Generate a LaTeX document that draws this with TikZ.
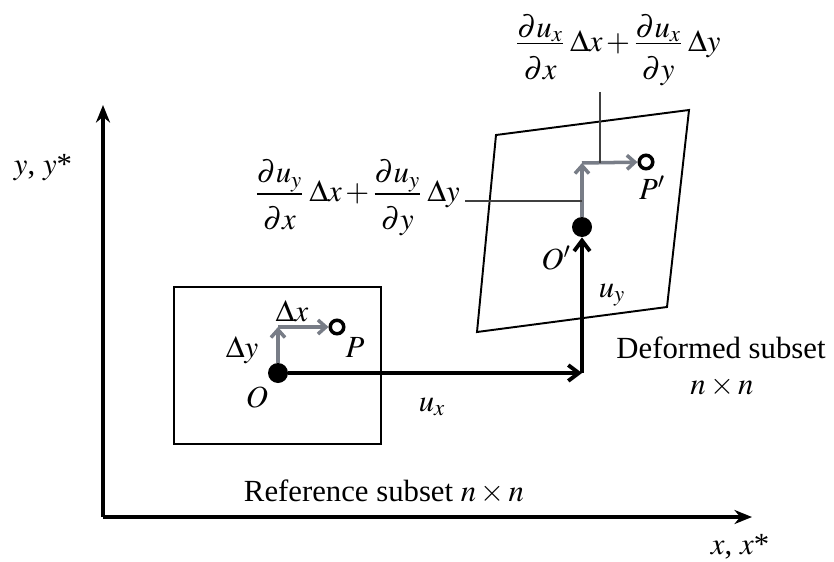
\documentclass[tikz,border=0pt]{standalone}
\usepackage{amsmath}
\usepackage{mathptmx}
\usepackage{fontspec}
\setmainfont{Liberation Serif}
\usetikzlibrary{arrows.meta,calc}

\definecolor{incrgray}{rgb}{0.47,0.49,0.53}
\definecolor{leadergray}{rgb}{0.25,0.25,0.25}
\newcommand{\tightfrac}[2]{\genfrac{}{}{}{1}{\displaystyle #1}{\displaystyle\rule{0pt}{1.1em}#2}}
\newcommand{\tplus}{\mkern2mu{+}\mkern2mu}

\begin{document}
\begin{tikzpicture}[x=0.02cm,y=-0.02cm,
  font=\fontsize{17.5}{21}\selectfont,
  axis/.style={line width=2pt,-{Stealth[length=10pt,width=8pt]}},
  disp/.style={line width=2.2pt,-{Straight Barb[length=6pt,width=9pt]}},
  incr/.style={incrgray,line width=2pt,-{Straight Barb[length=4.5pt,width=8pt]}},
  leader/.style={leadergray,line width=1pt},
  dot/.style={circle,fill,inner sep=0pt,minimum size=0.4cm},
  hole/.style={circle,draw,line width=2pt,inner sep=0pt,minimum size=0.27cm}]
\useasboundingbox (0,0) rectangle (834,561);
% axes
\coordinate (orig) at (103,517);
\coordinate (ytip) at (103,105);
\coordinate (xtip) at (752,517);
\draw[axis] (orig) -- (ytip);
\draw[axis] (orig) -- (xtip);
\node (ylab) at (43,168) {$y$, $y$*};
\node (xlab) at (740,547) {$x$, $x$*};
% reference subset
\draw[line width=0.8pt] (174,287) rectangle (381,444);
\node[dot] (O) at (278,373) {};
\node[hole] (P) at (337,327) {};
\coordinate (Oc) at (278,327);
\draw[incr] (O) -- (Oc);
\draw[incr] (Oc) -- (P);
\node (Olab) at (257,397) {$O$};
\node (Plab) at (355,348) {$P$};
\node (dxlab) at (292,311) {$\Delta x$};
\node (dylab) at (242,350) {$\Delta y$};
\node (reflab) at (384,492) {Reference subset $n\times n$};
% deformed subset
\draw[line width=1.1pt] (496,135) -- (689,110) -- (667,307) -- (477,332) -- cycle;
\node[dot] (Od) at (582,227) {};
\node[hole] (Pd) at (646,162) {};
\coordinate (Odc) at (582,163);
\draw[incr] (Od) -- (Odc);
\draw[incr] (Odc) -- (Pd);
\node (Odlab) at (556,258) {$O'$};
\node (Pdlab) at (652,188) {$P'$};
\node (deflab) at (721,348) {Deformed subset};
\node (defnn) at (722,387) {$n\times n$};
% displacement
\coordinate (corner) at (582,373);
\draw[disp] (O) -- (corner);
\draw[disp] (corner) -- (Od);
\node (uxlab) at (432,407) {$u_x$};
\node (uylab) at (612,295) {$u_y$};
% gradient terms
\node (dux) at (618,50) {$\tightfrac{\partial u_x}{\partial x}\mkern3mu\Delta x\tplus\tightfrac{\partial u_x}{\partial y}\mkern3mu\Delta y$};
\node[anchor=east] (duy) at (466,198) {$\tightfrac{\partial u_y}{\partial x}\mkern3mu\Delta x\tplus\tightfrac{\partial u_y}{\partial y}\mkern3mu\Delta y$};
\coordinate (duxend) at (600,163);
\coordinate (duyend) at (582,201);
\draw[leader] (dux.south -| duxend) -- (duxend);
\draw[leader] ($(duy.east |- duyend)+(-1,0)$) -- (duyend);
\end{tikzpicture}
\end{document}
